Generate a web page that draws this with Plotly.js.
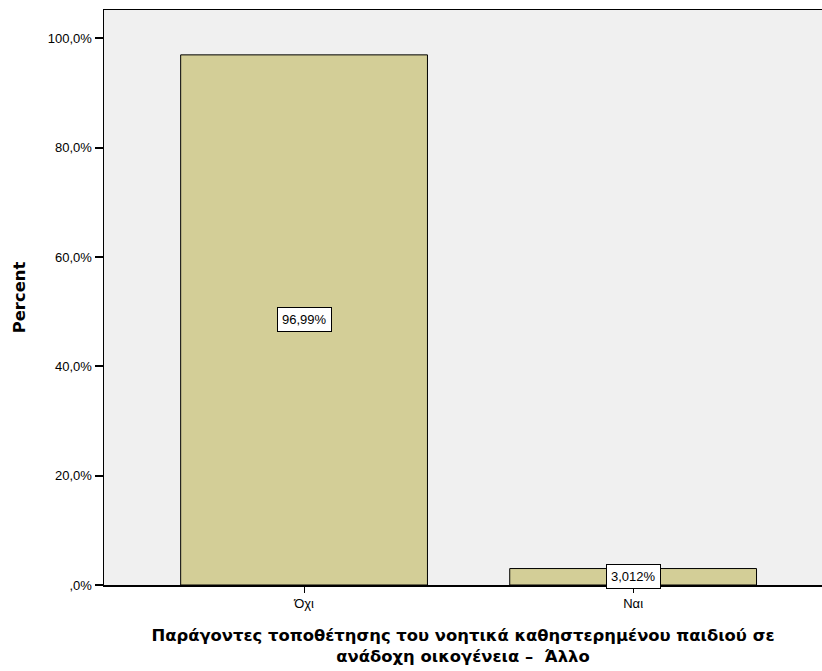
<!DOCTYPE html>
<html>
<head>
<meta charset="utf-8">
<script src="https://cdn.plot.ly/plotly-3.0.1.min.js"></script>
<style>html,body{margin:0;padding:0;background:#fff;}#chart{width:822px;height:671px;}</style>
</head>
<body>
<div id="chart"></div>
<script>
const categories = ["Όχι", "Ναι"];
const percents = [96.99, 3.012];
const barLabels = ["96,99%", "3,012%"];
const yTickVals = [0, 20, 40, 60, 80, 100];
const yTickText = [",0%", "20,0%", "40,0%", "60,0%", "80,0%", "100,0%"];

const trace = {
  type: "bar",
  x: categories,
  y: percents,
  width: 0.75,
  marker: {color: "#d3ce97", line: {color: "#000", width: 1}},
  hoverinfo: "none"
};

const annotations = categories.map((c, i) => ({
  x: c, y: percents[i] / 2, xref: "x", yref: "y",
  text: barLabels[i], showarrow: false,
  bgcolor: "#fff", bordercolor: "#000", borderwidth: 1, borderpad: 4,
  font: {family: "Liberation Sans, Arial, sans-serif", size: 13, color: "#000"}
}));

const layout = {
  width: 822, height: 671,
  margin: {l: 104, r: 0, t: 10, b: 86},
  paper_bgcolor: "#fff",
  plot_bgcolor: "#f0f0f0",
  showlegend: false,
  font: {family: "Liberation Sans, Arial, sans-serif", color: "#000", size: 12},
  xaxis: {
    type: "category",
    range: [-0.608, 1.574],
    showline: true, linecolor: "#000", linewidth: 1.5, mirror: true,
    ticks: "outside", ticklen: 6, tickwidth: 1, tickcolor: "#000",
    showgrid: false, zeroline: false,
    tickfont: {size: 13},
    title: {
      text: "<b>Παράγοντες τοποθέτησης του νοητικά καθηστερημένου παιδιού σε<br>ανάδοχη οικογένεια –  Άλλο</b>",
      font: {family: "DejaVu Sans, sans-serif", size: 16.4}, standoff: 19
    }
  },
  yaxis: {
    range: [0, 105.2],
    tickvals: yTickVals, ticktext: yTickText,
    showline: true, linecolor: "#000", linewidth: 1.5,
    ticks: "outside", ticklen: 8, tickwidth: 2, tickcolor: "#000",
    showgrid: false, zeroline: false,
    tickfont: {size: 13},
    title: {text: "<b>Percent</b>", font: {family: "DejaVu Sans, sans-serif", size: 16.4}, standoff: 18}
  },
  annotations: annotations
};

Plotly.newPlot("chart", [trace], layout, {displayModeBar: false, staticPlot: true});
</script>
</body>
</html>
